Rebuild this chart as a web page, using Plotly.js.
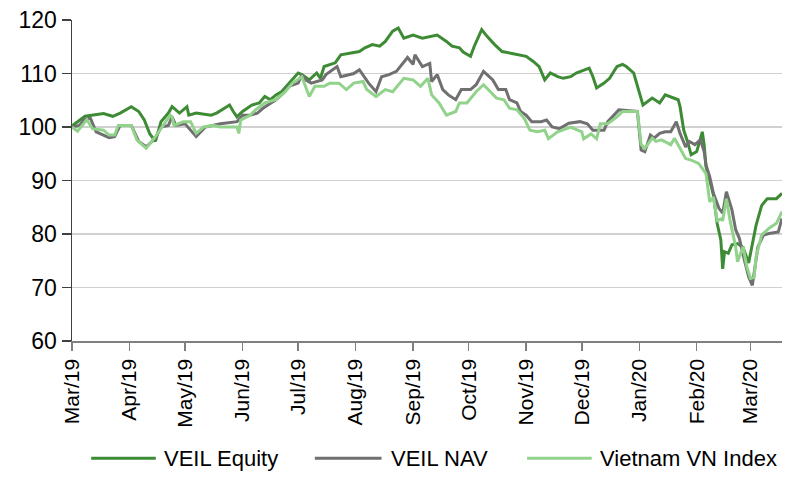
<!DOCTYPE html>
<html>
<head>
<meta charset="utf-8">
<script src="https://cdn.plot.ly/plotly-3.0.1.min.js"></script>
<style>
  html, body { margin: 0; padding: 0; background: #ffffff; }
  #chart { width: 800px; height: 482px; }
</style>
</head>
<body>
<div id="chart"></div>
<script>
// ---- Data ----
const seriesNames = ['VEIL Equity', 'VEIL NAV', 'Vietnam VN Index'];

const equityDates = ['2019-03-01','2019-03-08','2019-03-18','2019-03-23','2019-03-27','2019-04-02','2019-04-06','2019-04-09','2019-04-12','2019-04-15','2019-04-18','2019-04-22','2019-04-24','2019-04-28','2019-05-02','2019-05-03','2019-05-07','2019-05-15','2019-05-18','2019-05-21','2019-05-25','2019-05-27','2019-05-29','2019-06-01','2019-06-06','2019-06-10','2019-06-13','2019-06-16','2019-06-19','2019-06-22','2019-06-26','2019-07-01','2019-07-03','2019-07-07','2019-07-11','2019-07-13','2019-07-15','2019-07-21','2019-07-24','2019-07-30','2019-08-03','2019-08-06','2019-08-10','2019-08-14','2019-08-17','2019-08-21','2019-08-24','2019-08-27','2019-09-01','2019-09-06','2019-09-11','2019-09-14','2019-09-19','2019-09-22','2019-09-26','2019-09-28','2019-10-02','2019-10-04','2019-10-08','2019-10-11','2019-10-15','2019-10-19','2019-10-25','2019-11-01','2019-11-05','2019-11-08','2019-11-11','2019-11-14','2019-11-18','2019-11-21','2019-11-25','2019-11-28','2019-12-05','2019-12-07','2019-12-09','2019-12-13','2019-12-16','2019-12-20','2019-12-23','2019-12-25','2019-12-29','2019-12-31','2020-01-03','2020-01-08','2020-01-12','2020-01-15','2020-01-19','2020-01-22','2020-01-23','2020-01-25','2020-01-27','2020-01-29','2020-02-01','2020-02-03','2020-02-04','2020-02-05','2020-02-06','2020-02-08','2020-02-10','2020-02-12','2020-02-14','2020-02-15','2020-02-16','2020-02-18','2020-02-20','2020-02-23','2020-02-26','2020-02-29','2020-03-02','2020-03-04','2020-03-07','2020-03-10','2020-03-15','2020-03-18'];
const equityValues = [100.2,102,102.5,102,102.6,103.8,102.9,101.3,98.7,97.3,101,102.6,103.8,102.6,103.8,102.2,102.6,102.2,102.6,103.2,104.1,102.9,101.9,102.9,104.1,104.5,105.7,105.1,106,106.6,108.2,110.1,109.8,108.8,110.1,109.1,111.3,112,113.5,113.8,114.1,114.8,115.4,115.1,116,117.9,118.5,116.6,117.2,116.6,116.9,117.2,116,115.1,114.8,114,113.2,115.1,118.2,116.9,115.4,114.1,113.7,113.2,112.2,111.3,108.8,110.1,109.4,109.1,109.4,110.1,111,109.4,107.3,108.2,109.1,111.3,111.7,111.3,110.1,107.6,104.1,105.4,104.5,106,105.4,105.1,103.8,99.4,97.3,94.8,95.4,97.6,99.1,96.7,92.6,90.1,87.3,82,78.9,73.5,76.7,76.4,78,78.2,77.5,74.6,78,81.6,85.3,86.6,86.6,87.6];

const navDates = ['2019-03-01','2019-03-05','2019-03-08','2019-03-11','2019-03-14','2019-03-21','2019-03-24','2019-03-27','2019-04-02','2019-04-06','2019-04-10','2019-04-15','2019-04-18','2019-04-22','2019-04-24','2019-04-26','2019-05-01','2019-05-07','2019-05-12','2019-05-20','2019-05-29','2019-06-01','2019-06-05','2019-06-09','2019-06-12','2019-06-19','2019-06-23','2019-06-26','2019-07-01','2019-07-03','2019-07-05','2019-07-08','2019-07-14','2019-07-16','2019-07-22','2019-07-24','2019-07-31','2019-08-03','2019-08-08','2019-08-12','2019-08-15','2019-08-19','2019-08-23','2019-08-26','2019-08-29','2019-09-01','2019-09-02','2019-09-06','2019-09-10','2019-09-11','2019-09-14','2019-09-17','2019-09-20','2019-09-24','2019-09-27','2019-10-02','2019-10-05','2019-10-09','2019-10-14','2019-10-17','2019-10-21','2019-10-23','2019-10-27','2019-10-29','2019-11-01','2019-11-04','2019-11-09','2019-11-12','2019-11-15','2019-11-19','2019-11-24','2019-11-30','2019-12-04','2019-12-07','2019-12-13','2019-12-15','2019-12-21','2019-12-31','2020-01-02','2020-01-04','2020-01-07','2020-01-09','2020-01-12','2020-01-15','2020-01-18','2020-01-21','2020-01-23','2020-01-26','2020-01-28','2020-01-31','2020-02-03','2020-02-05','2020-02-06','2020-02-08','2020-02-10','2020-02-13','2020-02-15','2020-02-17','2020-02-20','2020-02-22','2020-02-24','2020-02-26','2020-02-29','2020-03-02','2020-03-03','2020-03-05','2020-03-08','2020-03-11','2020-03-16','2020-03-18'];
const navValues = [100,100.3,101.6,101.6,99.1,98,98.2,100.3,100.3,97.3,96.3,97.9,100,100.3,101.9,100.3,100.6,98.2,100,100.6,101,102.2,102.2,102.6,103.5,105.1,106.3,107.6,108.2,109.8,108.8,108.2,108.8,109.8,111.3,109.4,110,110.7,108.2,106.6,109.4,109.8,110.4,111.7,113,111.7,113.5,111.3,111.9,108.5,109.8,107,106,105.1,107,107,107.9,110.4,108.8,107,107,105.1,104.5,102.9,102.2,101,101,101.3,100,99.7,100.7,101,100.6,99.4,99.4,101,103.2,102.9,95.7,95.4,98.5,97.9,98.8,99.1,99.1,101,98.8,96.3,97.3,96.7,97.6,95.4,92.9,90.7,87.6,84.8,83.9,87.9,84.5,80.8,79.2,76.1,72,70.4,72.6,77.6,79.8,80.1,80.4,82.9];

const indexDates = ['2019-03-01','2019-03-04','2019-03-09','2019-03-12','2019-03-18','2019-03-21','2019-03-24','2019-03-26','2019-03-30','2019-04-02','2019-04-05','2019-04-10','2019-04-15','2019-04-19','2019-04-23','2019-04-24','2019-04-25','2019-04-30','2019-05-04','2019-05-07','2019-05-11','2019-05-16','2019-05-20','2019-05-29','2019-05-30','2019-05-31','2019-06-05','2019-06-08','2019-06-13','2019-06-19','2019-06-24','2019-06-28','2019-07-03','2019-07-07','2019-07-10','2019-07-15','2019-07-18','2019-07-23','2019-07-27','2019-07-31','2019-08-05','2019-08-07','2019-08-12','2019-08-17','2019-08-21','2019-08-27','2019-09-01','2019-09-05','2019-09-09','2019-09-11','2019-09-15','2019-09-19','2019-09-24','2019-09-26','2019-09-30','2019-10-05','2019-10-09','2019-10-16','2019-10-20','2019-10-23','2019-10-27','2019-10-31','2019-11-03','2019-11-07','2019-11-11','2019-11-13','2019-11-18','2019-11-25','2019-12-01','2019-12-02','2019-12-06','2019-12-09','2019-12-11','2019-12-15','2019-12-20','2019-12-23','2019-12-31','2020-01-02','2020-01-04','2020-01-08','2020-01-10','2020-01-13','2020-01-18','2020-01-20','2020-01-24','2020-01-26','2020-01-29','2020-02-02','2020-02-06','2020-02-08','2020-02-10','2020-02-12','2020-02-14','2020-02-15','2020-02-17','2020-02-19','2020-02-22','2020-02-23','2020-02-26','2020-02-28','2020-03-01','2020-03-03','2020-03-04','2020-03-07','2020-03-11','2020-03-15','2020-03-18'];
const indexValues = [100,99.2,101.4,99.7,99.4,98.5,98.5,100.3,100.3,100.3,97.6,96,98.2,100.3,102.2,101.9,100.3,101,101,98.8,100,100.3,100,100,98.8,101.3,102.2,103.2,104.5,105.1,106.6,108.2,109.4,105.7,107.6,107.6,108.2,108.2,107,108.2,108.5,107,105.7,107,106.6,109.1,108.8,107.6,109.1,106,104.5,102.2,102.9,104.5,104.5,106.6,107.9,105.4,105.1,103.5,103.2,101.6,99.4,99.1,99.4,97.8,99.1,100,99.1,97.8,98.7,97.8,100.6,100.6,101.9,102.9,102.9,96.7,96,97.9,97.3,97.6,96.7,97.9,95.4,94.1,93.8,93.2,91.3,86,86.9,82.5,82.8,82.5,86.6,82.5,77.6,74.8,77.6,73.9,71.7,71.9,75.7,79.8,81.1,82,84.2];

const tickDates = ['2019-03-01','2019-04-01','2019-05-01','2019-06-01','2019-07-01','2019-08-01','2019-09-01','2019-10-01','2019-11-01','2019-12-01','2020-01-01','2020-02-01','2020-03-01'];
const tickLabels = ['Mar/19','Apr/19','May/19','Jun/19','Jul/19','Aug/19','Sep/19','Oct/19','Nov/19','Dec/19','Jan/20','Feb/20','Mar/20'];
const yTicks = [60, 70, 80, 90, 100, 110, 120];

// ---- Styling ----
const colors = ['#3e8b35', '#707070', '#92d38b'];
const FONT = '"Liberation Sans", Arial, sans-serif';

const traces = [
  { x: equityDates, y: equityValues, name: seriesNames[0] },
  { x: navDates, y: navValues, name: seriesNames[1] },
  { x: indexDates, y: indexValues, name: seriesNames[2] }
].map((t, i) => Object.assign(t, {
  type: 'scatter', mode: 'lines',
  line: { color: colors[i], width: 3 },
  showlegend: false, hoverinfo: 'skip'
}));

// Custom legend (line samples + labels), paper coordinates
const legendY = -0.365;
const legendItems = [
  { x0: 0.027, x1: 0.118, tx: 0.127 },
  { x0: 0.342, x1: 0.436, tx: 0.446 },
  { x0: 0.641, x1: 0.732, tx: 0.741 }
];
const shapes = legendItems.map((it, i) => ({
  type: 'line', xref: 'paper', yref: 'paper',
  x0: it.x0, x1: it.x1, y0: legendY, y1: legendY,
  line: { color: colors[i], width: 3 }
}));
const annotations = legendItems.map((it, i) => ({
  xref: 'paper', yref: 'paper', x: it.tx, y: legendY,
  xanchor: 'left', yanchor: 'middle', showarrow: false,
  text: seriesNames[i], font: { family: FONT, size: 22, color: '#000000' }
}));

const layout = {
  width: 800, height: 482,
  margin: { l: 72, r: 18, t: 20, b: 141 },
  paper_bgcolor: '#ffffff', plot_bgcolor: '#ffffff',
  font: { family: FONT, color: '#000000' },
  showlegend: false,
  xaxis: {
    type: 'date',
    range: ['2019-03-01', '2020-03-18'],
    tickvals: tickDates, ticktext: tickLabels,
    tickangle: -90,
    tickfont: { family: FONT, size: 21, color: '#000000' },
    ticks: 'outside', ticklen: 8, tickwidth: 1.5, tickcolor: '#808080',
    showline: true, linecolor: '#808080', linewidth: 1.5,
    showgrid: false, zeroline: false, fixedrange: true
  },
  yaxis: {
    range: [60, 120],
    tickvals: yTicks,
    tickfont: { family: FONT, size: 23, color: '#000000' },
    ticks: 'outside', ticklen: 9, tickwidth: 1.5, tickcolor: '#404040',
    showline: true, linecolor: '#404040', linewidth: 1.5,
    showgrid: true, gridcolor: '#d0d0d0', gridwidth: 1.5,
    zeroline: false, fixedrange: true
  },
  shapes: shapes,
  annotations: annotations
};

Plotly.newPlot('chart', traces, layout, { displayModeBar: false, staticPlot: true });
</script>
</body>
</html>
